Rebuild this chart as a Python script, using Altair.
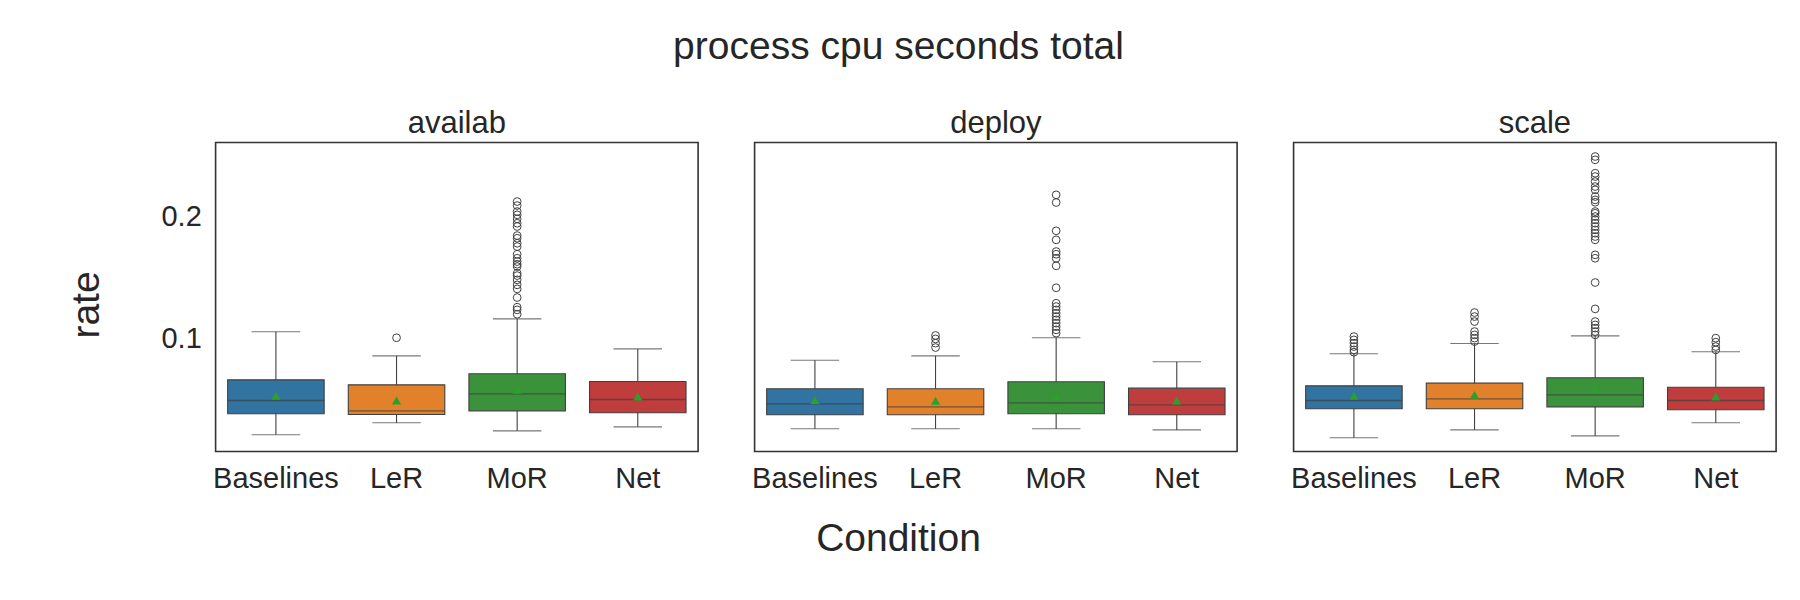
import altair as alt
import pandas as pd

# ---------------- data ----------------
panels = ["availab", "deploy", "scale"]
conditions = ["Baselines", "LeR", "MoR", "Net"]
box_colors = ["#3274a1", "#e1812c", "#3a923a", "#c03d3e"]

# per panel, per condition (Baselines, LeR, MoR, Net)
whisker_lo = [
    [0.0211, 0.0309, 0.0243, 0.0276],
    [0.0260, 0.0260, 0.0260, 0.0251],
    [0.0186, 0.0251, 0.0202, 0.0309],
]
q1 = [
    [0.0383, 0.0377, 0.0407, 0.0391],
    [0.0375, 0.0375, 0.0383, 0.0375],
    [0.0424, 0.0424, 0.0440, 0.0416],
]
median = [
    [0.0492, 0.0407, 0.0547, 0.0500],
    [0.0465, 0.0440, 0.0473, 0.0456],
    [0.0492, 0.0506, 0.0538, 0.0492],
]
q3 = [
    [0.0661, 0.0620, 0.0711, 0.0648],
    [0.0588, 0.0588, 0.0645, 0.0593],
    [0.0612, 0.0634, 0.0678, 0.0601],
]
whisker_hi = [
    [0.1055, 0.0858, 0.1161, 0.0915],
    [0.0822, 0.0858, 0.1006, 0.0809],
    [0.0875, 0.0959, 0.1022, 0.0891],
]
means = [
    [0.0530, 0.0492, 0.0580, 0.0525],
    [0.0495, 0.0490, 0.0525, 0.0492],
    [0.0530, 0.0538, 0.0593, 0.0525],
]

outliers_availab_LeR = [0.1006]
outliers_availab_MoR = [0.2123, 0.2090, 0.2041, 0.2014, 0.1981, 0.1945, 0.1918, 0.1844,
                        0.1822, 0.1781, 0.1754, 0.1691, 0.1658, 0.1631, 0.1609, 0.1590,
                        0.1535, 0.1516, 0.1481, 0.1440, 0.1407, 0.1336, 0.1257, 0.1235,
                        0.1199]
outliers_deploy_LeR = [0.1025, 0.0997, 0.0962, 0.0926]
outliers_deploy_MoR = [0.2178, 0.2115, 0.1883, 0.1809, 0.1713, 0.1691, 0.1658, 0.1596,
                       0.1416, 0.1289, 0.1262, 0.1235, 0.1207, 0.1180, 0.1153, 0.1126,
                       0.1098, 0.1071, 0.1044]
outliers_scale_Baselines = [0.1016, 0.0989, 0.0962, 0.0934, 0.0907, 0.0888]
outliers_scale_LeR = [0.1213, 0.1180, 0.1139, 0.1057, 0.1030, 0.1003, 0.0975]
outliers_scale_MoR = [0.2492, 0.2465, 0.2355, 0.2328, 0.2287, 0.2246, 0.2219, 0.2164,
                      0.2137, 0.2117, 0.2041, 0.2027, 0.2000, 0.1973, 0.1945, 0.1918,
                      0.1891, 0.1863, 0.1836, 0.1809, 0.1686, 0.1658, 0.1459, 0.1243,
                      0.1139, 0.1112, 0.1085, 0.1057, 0.1030]
outliers_scale_Net = [0.1003, 0.0970, 0.0934, 0.0907]

outliers = {
    ("availab", "LeR"): outliers_availab_LeR,
    ("availab", "MoR"): outliers_availab_MoR,
    ("deploy", "LeR"): outliers_deploy_LeR,
    ("deploy", "MoR"): outliers_deploy_MoR,
    ("scale", "Baselines"): outliers_scale_Baselines,
    ("scale", "LeR"): outliers_scale_LeR,
    ("scale", "MoR"): outliers_scale_MoR,
    ("scale", "Net"): outliers_scale_Net,
}

# ---------------- styling ----------------
FONT = "Liberation Sans"
TEXT = "#262626"
LINE = "#404040"
Y_DOMAIN = [0.00738, 0.2607]
W, H = 482.5, 309
BOX_W, CAP_W = 96.5, 48.5

yscale = alt.Scale(domain=Y_DOMAIN, nice=False, zero=False)
xscale = alt.Scale(domain=conditions, paddingInner=0, paddingOuter=0)
cscale = alt.Scale(domain=conditions, range=box_colors)

xaxis = alt.Axis(title=None, labelAngle=0, labelFontSize=29, labelFont=FONT,
                 labelColor=TEXT, labelPadding=12.8, ticks=False, tickSize=0,
                 domain=False, grid=False)


def yaxis(first):
    if not first:
        return None
    return alt.Axis(title="rate", values=[0.1, 0.2], format=".1f",
                    labelFontSize=29, labelFont=FONT, labelColor=TEXT,
                    labelPadding=14.3, ticks=False, tickSize=0, domain=False,
                    grid=False, titleFontSize=39, titleFont=FONT,
                    titleFontWeight="normal", titleColor=TEXT,
                    titleX=-116.7, titleY=162, titleBaseline="alphabetic",
                    titleAngle=270)


def make_panel(i, name):
    first = i == 0
    stats = pd.DataFrame({
        "cond": conditions,
        "lo": whisker_lo[i],
        "q1": q1[i],
        "med": median[i],
        "q3": q3[i],
        "hi": whisker_hi[i],
        "mean": means[i],
    })
    rows = []
    for c in conditions:
        for v in outliers.get((name, c), []):
            rows.append({"cond": c, "value": v})
    out_df = pd.DataFrame(rows, columns=["cond", "value"])

    ax = yaxis(first)
    X = alt.X("cond:N", scale=xscale, axis=xaxis, sort=conditions)

    def Y(field):
        if ax is None:
            return alt.Y(f"{field}:Q", scale=yscale, axis=None)
        return alt.Y(f"{field}:Q", scale=yscale, axis=ax)

    base = alt.Chart(stats)
    whisk = base.mark_rule(color=LINE, strokeWidth=1.1).encode(x=X, y=Y("lo"), y2="hi:Q")
    cap_lo = base.mark_tick(color=LINE, size=CAP_W, thickness=1.1).encode(x=X, y=Y("lo"))
    cap_hi = base.mark_tick(color=LINE, size=CAP_W, thickness=1.1).encode(x=X, y=Y("hi"))
    box = base.mark_bar(size=BOX_W, stroke=LINE, strokeWidth=1.1).encode(
        x=X, y=Y("q1"), y2="q3:Q",
        color=alt.Color("cond:N", scale=cscale, legend=None))
    med = base.mark_tick(color=LINE, size=BOX_W, thickness=1.3).encode(x=X, y=Y("med"))
    mean = base.mark_point(shape="triangle-up", filled=True, color="#2ca02c",
                           size=85, opacity=1).encode(x=X, y=Y("mean"))
    fl = alt.Chart(out_df).mark_point(shape="circle", filled=False, color=LINE,
                                      size=60, strokeWidth=1, opacity=1).encode(
        x=X, y=Y("value"))

    return alt.layer(whisk, cap_lo, cap_hi, box, med, mean, fl).properties(
        width=W, height=H,
        title=alt.TitleParams(name, fontSize=31, font=FONT, fontWeight="normal",
                              color=TEXT, offset=2.5, anchor="middle"))


row = alt.hconcat(*[make_panel(i, p) for i, p in enumerate(panels)], spacing=51).properties(
    title=alt.TitleParams("Condition", orient="bottom", anchor="middle", fontSize=39,
                          font=FONT, fontWeight="normal", color=TEXT, offset=26,
                          dx=-23.5))

chart = alt.vconcat(row).properties(
    title=alt.TitleParams("process cpu seconds total", anchor="middle", fontSize=39,
                          font=FONT, fontWeight="normal", color=TEXT, offset=40,
                          dx=-23.5),
    padding={"left": 58.6, "top": 19.5, "right": 5, "bottom": 5},
).configure(
    background="white",
    view=alt.ViewConfig(stroke="#333333", strokeWidth=1.6),
)

chart.save("out.html", embed_options={"renderer": "svg", "actions": False})
